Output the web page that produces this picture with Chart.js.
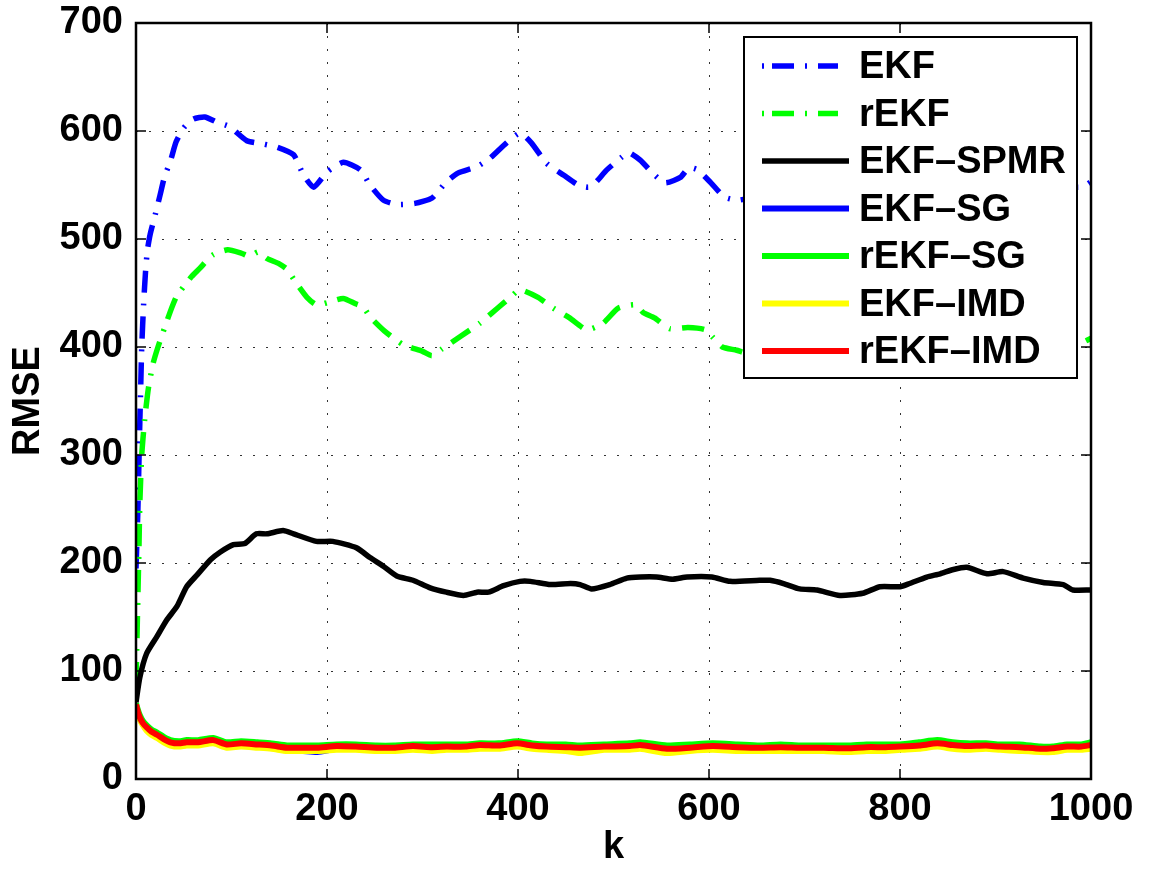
<!DOCTYPE html>
<html>
<head>
<meta charset="utf-8">
<script src="https://cdn.jsdelivr.net/npm/chart.js@4.4.1/dist/chart.umd.min.js"></script>
<style>
  html, body { margin: 0; padding: 0; background: #fff; }
  #wrap { width: 1151px; height: 870px; }
</style>
</head>
<body>
<div id="wrap"><canvas id="c" width="1151" height="870"></canvas></div>
<script>
// ---- Data ----
const xTicks = [0, 200, 400, 600, 800, 1000];
const yTicks = [0, 100, 200, 300, 400, 500, 600, 700];

const seriesNames = ['EKF', 'rEKF', 'EKF–SPMR', 'EKF–SG', 'rEKF–SG', 'EKF–IMD', 'rEKF–IMD'];

const ekfK = [0, 2, 3, 4, 5, 6, 8, 10, 12, 15, 20, 25, 30, 36, 42, 50, 60, 72, 85, 98, 116, 133, 148, 165, 175, 186, 200, 217, 235, 245, 259, 273, 292, 310, 324, 337, 357, 371, 388, 402, 414, 430, 448, 463, 474, 482, 493, 509, 516, 528, 541, 554, 570, 579, 588, 602, 616, 631, 650, 680, 720, 760, 800, 850, 900, 950, 990, 1000];
const ekfV = [195, 250, 290, 330, 365, 400, 440, 470, 490, 505, 522, 540, 558, 572, 590, 603, 611, 613, 608, 604, 591, 588, 585, 578, 560, 548, 562, 571, 564, 550, 536, 532, 533, 538, 552, 561, 567, 575, 589, 598, 589, 570, 559, 550, 548, 553, 564, 576, 580, 573, 561, 552, 557, 566, 564, 552, 539, 536, 540, 545, 550, 545, 540, 555, 560, 550, 548, 553];

const rekfK = [0, 1, 2, 3, 4, 6, 9, 13, 18, 23, 30, 36, 42, 50, 58, 67, 80, 96, 110, 119, 128, 137, 150, 158, 168, 179, 189, 200, 217, 230, 238, 245, 260, 280, 300, 310, 320, 340, 360, 380, 392, 402, 421, 437, 454, 472, 489, 505, 523, 531, 543, 559, 578, 596, 604, 614, 629, 636, 650, 700, 750, 800, 850, 900, 950, 990, 1000];
const rekfV = [88, 130, 170, 210, 255, 300, 332, 362, 385, 400, 418, 433, 446, 456, 465, 473, 485, 490, 487, 484, 488, 482, 477, 472, 459, 446, 439, 441, 445, 440, 437, 428, 415, 402, 396, 392, 398, 410, 422, 437, 446, 453, 446, 436, 427, 416, 422, 436, 439, 432, 427, 417, 418, 416, 409, 400, 397, 395, 393, 395, 400, 405, 400, 398, 402, 404, 408];

const spmrK = [0, 4, 11, 22, 32, 43, 53, 64, 78, 88, 102, 114, 126, 137, 154, 165, 189, 206, 231, 245, 259, 273, 290, 308, 325, 343, 357, 369, 385, 402, 413, 434, 455, 465, 477, 496, 514, 528, 545, 562, 577, 603, 622, 653, 664, 678, 695, 713, 737, 761, 779, 800, 810, 828, 842, 856, 870, 891, 908, 929, 950, 971, 981, 1000];
const spmrV = [71, 94, 116, 132, 147, 160, 178, 189, 203, 210, 217, 218, 227, 227, 230, 227, 220, 220, 214, 205, 197, 188, 184, 177, 173, 170, 173, 173, 179, 183, 183, 180, 181, 180, 176, 180, 186, 187, 187, 185, 187, 187, 183, 184, 184, 181, 176, 175, 170, 172, 178, 178, 181, 187, 190, 194, 196, 190, 192, 186, 182, 180, 175, 175];

const lowK = [0, 2, 4, 7, 11, 16, 22, 29, 36, 45, 53, 65, 81, 95, 110, 127, 142, 158, 175, 190, 210, 230, 252, 270, 290, 310, 325, 345, 360, 380, 399, 415, 430, 450, 465, 490, 517, 528, 556, 580, 604, 630, 653, 675, 695, 720, 745, 765, 785, 800, 820, 839, 855, 870, 890, 905, 925, 947, 960, 975, 990, 1000];
const sgV   = [68, 61, 56, 51, 46, 42, 39, 35, 32, 31, 32, 32, 34, 30, 31, 30, 29, 27, 26, 25, 28, 28, 27, 27, 28, 27, 28, 28, 29, 29, 31, 29, 28, 27, 25, 28, 28, 29, 25, 27, 28, 27, 27, 27, 27, 27, 26, 27, 27, 28, 29, 31, 29, 28, 29, 28, 27, 26, 26, 28, 28, 29];
const rsgV  = [70, 64, 59, 54, 50, 46, 43, 39, 36, 35, 36, 36, 38, 34, 35, 34, 33, 31, 31, 31, 32, 32, 31, 31, 32, 32, 32, 32, 33, 33, 35, 33, 32, 32, 31, 32, 33, 34, 31, 32, 33, 32, 31, 32, 31, 31, 31, 32, 32, 32, 34, 36, 34, 33, 33, 32, 32, 30, 30, 32, 32, 34];
const imdV  = [67, 60, 55, 50, 45, 41, 38, 34, 31, 30, 31, 31, 33, 29, 30, 29, 28, 26, 26, 26, 27, 27, 26, 26, 27, 26, 27, 27, 28, 28, 30, 28, 27, 26, 24, 27, 27, 28, 24, 26, 27, 26, 26, 26, 26, 26, 25, 26, 26, 27, 28, 30, 28, 27, 28, 27, 26, 25, 25, 27, 27, 28];
const rimdV = [69, 62, 57, 52, 48, 44, 41, 37, 34, 33, 34, 34, 36, 32, 33, 32, 31, 29, 29, 29, 30.5, 30, 29, 29, 30.5, 29.5, 30, 30, 31.5, 31, 33, 31, 30, 29.5, 29, 30, 30.5, 31.5, 28, 29, 30.5, 29.5, 29, 29.5, 29, 29, 28.5, 29.5, 29.5, 30, 31, 33, 31.5, 30.5, 31, 30, 29.5, 28, 28.5, 30, 30, 31.5];

// ---- Build datasets ----
const toXY = (ks, vs) => ks.map((k, i) => ({ x: k, y: vs[i] }));
const FONT = "'Liberation Sans', Arial, Helvetica, sans-serif";
const dashDot = [22, 11, 2, 11];

const specs = [
  { k: ekfK,  v: ekfV,  color: '#0000ff', width: 5.5, dash: dashDot },
  { k: rekfK, v: rekfV, color: '#00ff00', width: 5.5, dash: dashDot },
  { k: spmrK, v: spmrV, color: '#000000', width: 5.5, dash: [] },
  { k: lowK,  v: sgV,   color: '#0000ff', width: 6,   dash: [] },
  { k: lowK,  v: rsgV,  color: '#00ff00', width: 6,   dash: [] },
  { k: lowK,  v: imdV,  color: '#ffff00', width: 6,   dash: [] },
  { k: lowK,  v: rimdV, color: '#ff0000', width: 6,   dash: [] }
];

const datasets = specs.map((s, i) => ({
  label: seriesNames[i],
  data: toXY(s.k, s.v),
  borderColor: s.color,
  backgroundColor: s.color,
  borderWidth: s.width,
  borderDash: s.dash,
  borderCapStyle: 'butt',
  borderJoinStyle: 'round',
  pointRadius: 0,
  tension: 0.2,
  fill: false,
  order: specs.length - 1 - i
}));

// ---- Plugins: axes box with inner ticks, and a MATLAB-style legend ----
const boxPlugin = {
  id: 'boxPlugin',
  afterDatasetsDraw(chart) {
    const { ctx, chartArea: a, scales } = chart;
    ctx.save();
    ctx.strokeStyle = '#000';
    ctx.lineWidth = 1.5;
    ctx.setLineDash([]);
    const tl = 10;
    ctx.beginPath();
    xTicks.forEach(v => {
      const px = scales.x.getPixelForValue(v);
      ctx.moveTo(px, a.bottom); ctx.lineTo(px, a.bottom - tl);
      ctx.moveTo(px, a.top); ctx.lineTo(px, a.top + tl);
    });
    yTicks.forEach(v => {
      const py = scales.y.getPixelForValue(v);
      ctx.moveTo(a.left, py); ctx.lineTo(a.left + tl, py);
      ctx.moveTo(a.right, py); ctx.lineTo(a.right - tl, py);
    });
    ctx.stroke();
    ctx.lineWidth = 2.5;
    ctx.strokeRect(a.left, a.top, a.right - a.left, a.bottom - a.top);
    ctx.restore();
  }
};

const legendPlugin = {
  id: 'matlabLegend',
  afterDraw(chart) {
    const { ctx, chartArea: a } = chart;
    const w = 333, h = 341;
    const left = a.right - 14 - w, top = a.top + 14;
    ctx.save();
    ctx.fillStyle = '#fff';
    ctx.fillRect(left, top, w, h);
    ctx.strokeStyle = '#000';
    ctx.lineWidth = 2;
    ctx.setLineDash([]);
    ctx.strokeRect(left, top, w, h);
    chart.data.datasets.forEach((ds, i) => {
      const y = top + 29 + i * 47.5;
      ctx.beginPath();
      ctx.strokeStyle = ds.borderColor;
      ctx.lineWidth = ds.borderWidth;
      ctx.lineCap = 'butt';
      ctx.setLineDash(ds.borderDash.length ? [2, 8, 22, 11, 2, 11, 20, 11, 2] : []);
      ctx.moveTo(left + 18, y);
      ctx.lineTo(left + 105, y);
      ctx.stroke();
      ctx.setLineDash([]);
      ctx.fillStyle = '#000';
      ctx.font = 'bold 38px ' + FONT;
      ctx.textBaseline = 'middle';
      ctx.textAlign = 'left';
      ctx.fillText(ds.label, left + 115, y + 2);
    });
    ctx.restore();
  }
};

new Chart(document.getElementById('c'), {
  type: 'line',
  data: { datasets },
  options: {
    responsive: false,
    animation: false,
    layout: { padding: { top: 23, right: 60, left: 0, bottom: 0 } },
    plugins: { legend: { display: false }, tooltip: { enabled: false } },
    scales: {
      x: {
        type: 'linear',
        min: 0, max: 1000,
        afterBuildTicks: s => { s.ticks = xTicks.map(v => ({ value: v })); },
        afterFit: s => { s.height = 91; s.paddingLeft = 0; s.paddingRight = 0; },
        ticks: { color: '#000', font: { family: FONT, size: 38, weight: 'bold' }, padding: 8, maxRotation: 0, callback: v => String(v) },
        grid: { color: '#333', lineWidth: 1, drawTicks: false },
        border: { display: false, dash: [2, 11] },
        title: { display: true, text: 'k', color: '#000', font: { family: FONT, size: 38, weight: 'bold' }, padding: { top: 0, bottom: 0 } }
      },
      y: {
        type: 'linear',
        min: 0, max: 700,
        afterBuildTicks: s => { s.ticks = yTicks.map(v => ({ value: v })); },
        afterFit: s => { s.width = 136; s.paddingTop = 0; s.paddingBottom = 0; },
        ticks: { color: '#000', font: { family: FONT, size: 38, weight: 'bold' }, padding: 13, callback: v => String(v) },
        grid: { color: '#333', lineWidth: 1, drawTicks: false },
        border: { display: false, dash: [2, 11] },
        title: { display: true, text: 'RMSE', color: '#000', font: { family: FONT, size: 38, weight: 'bold' }, padding: { top: 6, bottom: 0 } }
      }
    }
  },
  plugins: [boxPlugin, legendPlugin]
});
</script>
</body>
</html>
